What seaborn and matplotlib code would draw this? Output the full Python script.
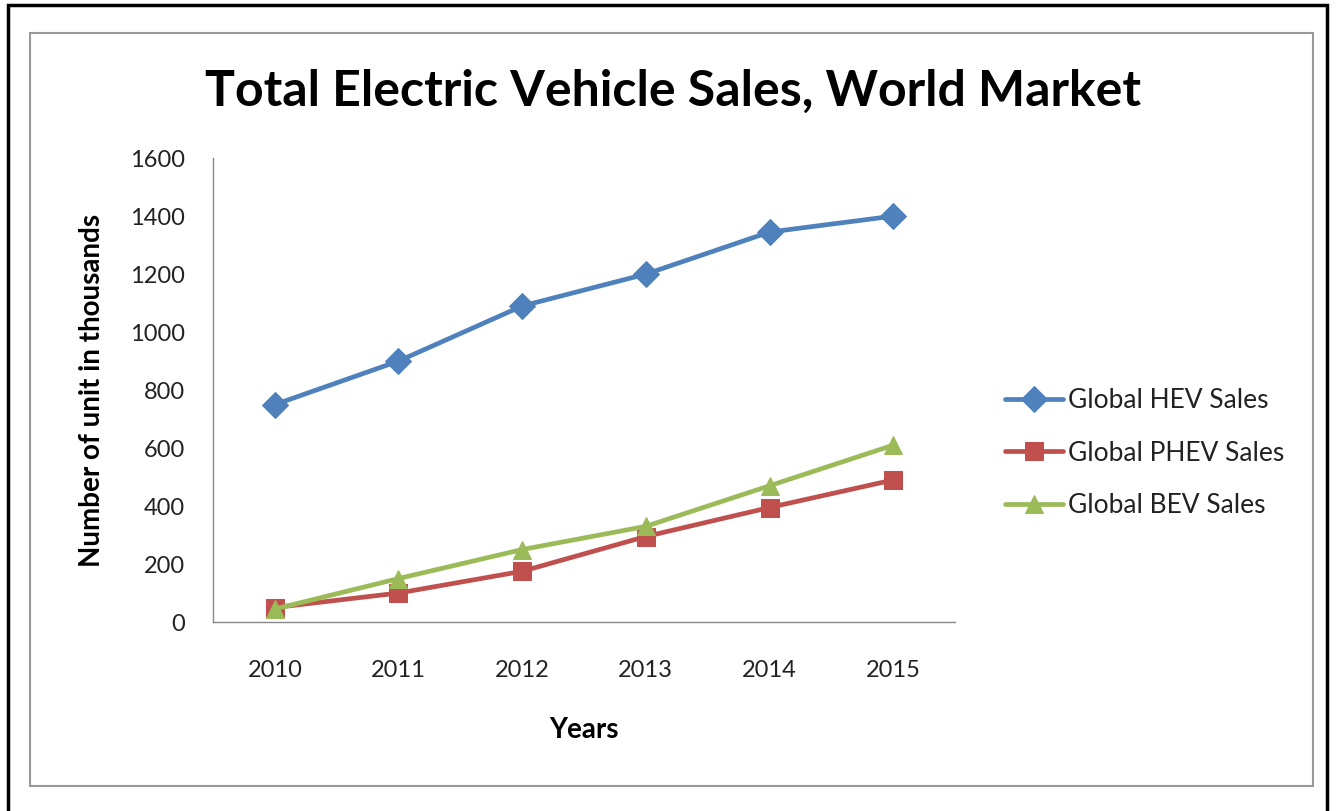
import matplotlib
matplotlib.use('Agg')
import matplotlib.pyplot as plt
from matplotlib.patches import Rectangle
import pandas as pd
import seaborn as sns

# Values (thousands of units)
years = ['2010', '2011', '2012', '2013', '2014', '2015']
hev_sales = [750, 900, 1090, 1200, 1345, 1400]
phev_sales = [50, 100, 175, 295, 395, 490]
bev_sales = [45, 150, 250, 330, 470, 610]
series_names = ['Global HEV Sales', 'Global PHEV Sales', 'Global BEV Sales']
colors = ['#4F81BD', '#C0504D', '#9BBB59']
markers = ['D', 's', '^']

frames = []
for name, vals in zip(series_names, [hev_sales, phev_sales, bev_sales]):
    frames.append(pd.DataFrame({'pos': range(len(years)), 'sales': vals, 'series': name}))
df = pd.concat(frames, ignore_index=True)

sns.set_style('white')
plt.rcParams['font.family'] = ['Lato', 'DejaVu Sans']

fig = plt.figure(figsize=(13.37, 8.11), dpi=100)
ax = fig.add_axes([0.1593, 0.233, 0.555, 0.572])

for name, c, m in zip(series_names, colors, markers):
    sub = df[df['series'] == name]
    sns.lineplot(data=sub, x='pos', y='sales', ax=ax, color=c, marker=m,
                 markersize=13, markeredgecolor=c, linewidth=3.4, label=name)

ax.set_xlim(-0.5, len(years) - 0.5)
ax.set_ylim(0, 1600)
ax.set_yticks(range(0, 1601, 200))
ax.set_xticks(range(len(years)))
ax.set_xticklabels(years)
ax.tick_params(axis='both', length=0, labelsize=17, colors='#222222')
ax.tick_params(axis='y', pad=20)
ax.tick_params(axis='x', pad=27)
for s in ['top', 'right']:
    ax.spines[s].set_visible(False)
for s in ['left', 'bottom']:
    ax.spines[s].set_color('#888888')
    ax.spines[s].set_linewidth(1.0)

ax.set_xlabel('Years', fontsize=20, fontweight='bold', labelpad=26, color='black')
ax.set_ylabel('Number of unit in thousands', fontsize=20, fontweight='bold',
              labelpad=18, color='black')

leg = ax.legend(loc='center left', bbox_to_anchor=(1.035, 0.364), frameon=False,
                fontsize=19, handlelength=2.2, labelspacing=1.05, handletextpad=0.2)
for t in leg.get_texts():
    t.set_color('#222222')

fig.suptitle('Total Electric Vehicle Sales, World Market', x=0.503, y=0.887,
             fontsize=36, fontweight='bold', va='center', color='black')

# outer black border and inner grey chart-area frame
fig.patches.append(Rectangle((8 / 1337, -0.01), 1319 / 1337, 1 - 5 / 811 + 0.01,
                             transform=fig.transFigure, fill=False,
                             edgecolor='black', linewidth=2.5))
fig.patches.append(Rectangle((30 / 1337, 1 - 786 / 811), 1283 / 1337, 753 / 811,
                             transform=fig.transFigure, fill=False,
                             edgecolor='#999999', linewidth=1.5))

fig.savefig('out.png', dpi=100)
